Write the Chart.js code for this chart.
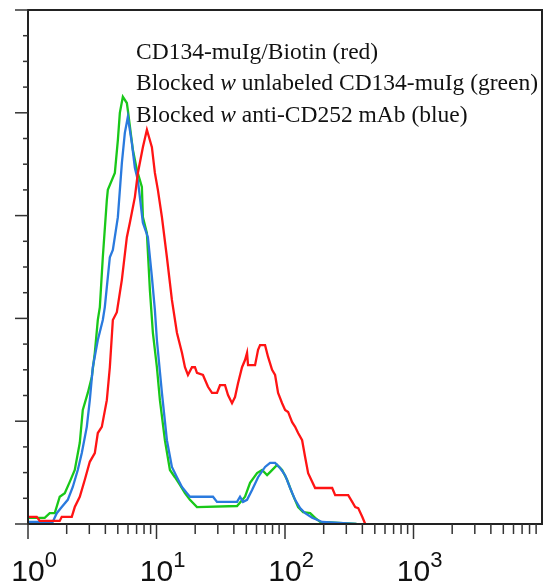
<!DOCTYPE html>
<html>
<head>
<meta charset="utf-8">
<script src="https://cdn.jsdelivr.net/npm/chart.js@4.4.0/dist/chart.umd.min.js"></script>
<style>
  html, body { margin: 0; padding: 0; background: #fff; }
</style>
</head>
<body>
<canvas id="histChart" width="550" height="584"></canvas>
<script>
// values (fluorescence on log axis, counts as % of y range)
const redFl = [1, 1.169, 1.234, 1.766, 1.831, 2.191, 2.312, 2.529, 2.767, 3.027, 3.311, 3.494, 3.753, 4.106, 4.334, 4.574, 4.914, 5.375, 5.879, 6.204, 6.787, 7.163, 7.834, 8.419, 9.207, 9.716, 10.25, 11.02, 12.05, 13.18, 14.42, 15.78, 16.65, 17.57, 18.88, 19.92, 20.65, 22.99, 25.16, 27.03, 29.57, 31.2, 34.13, 36.02, 38.7, 40.84, 43.1, 46.3, 48.87, 50.66, 51.57, 58.48, 61.72, 63.97, 69.97, 73.84, 79.34, 83.73, 88.36, 94.94, 100.2, 105.7, 113.6, 119.9, 126.5, 135.9, 143.5, 151.4, 162.7, 171.6, 232.9, 245.8, 310.3, 333.4, 351.9, 371.4, 399, 421.1];
const redCount = [1.4, 1.4, 0.6, 0.6, 1.4, 1.4, 3.3, 5.3, 8.6, 12.1, 13.8, 17.7, 18.9, 24.1, 30.5, 39.7, 41.2, 47.5, 55.8, 58.6, 63.6, 68.3, 73.3, 76.7, 73.3, 68.3, 65.0, 59.7, 51.9, 43.6, 37.2, 33.3, 30.5, 29.0, 30.5, 30.5, 29.4, 29.0, 26.7, 25.5, 25.5, 27.0, 27.0, 25.1, 23.5, 24.7, 27.4, 30.5, 31.9, 33.3, 30.9, 30.9, 33.9, 34.8, 34.8, 32.5, 30.0, 29.0, 25.5, 23.5, 22.2, 21.8, 19.8, 18.9, 17.7, 16.3, 13.0, 9.9, 8.2, 7.0, 7.0, 5.6, 5.6, 4.3, 3.3, 3.1, 1.4, 0];

const greenFl = [1, 1.349, 1.476, 1.615, 1.766, 1.932, 2.113, 2.312, 2.529, 2.669, 2.920, 3.137, 3.311, 3.494, 3.623, 3.821, 4.106, 4.181, 4.741, 5.004, 5.185, 5.472, 5.879, 5.985, 6.549, 7.036, 7.695, 7.834, 8.419, 8.884, 9.374, 10.07, 10.63, 11.63, 12.72, 13.91, 15.22, 16.65, 18.21, 20.65, 42.34, 48.87, 53.46, 60.62, 66.31, 72.53, 76.54, 86.79, 94.94, 103.8, 113.6, 126.5, 138.4, 156.9, 171.6, 187.8, 360];
const greenCount = [1.2, 1.2, 2.1, 2.1, 5.3, 6.0, 8.2, 10.5, 15.8, 22.2, 25.5, 28.6, 33.3, 39.7, 42.2, 51.9, 63.0, 65.0, 68.3, 74.7, 80.0, 83.1, 81.9, 80.5, 72.8, 68.9, 65.6, 59.7, 56.6, 45.5, 37.2, 30.5, 24.1, 16.3, 10.5, 9.1, 7.6, 6.0, 4.7, 3.3, 3.5, 5.3, 8.0, 9.9, 10.5, 9.5, 10.1, 11.5, 10.5, 8.6, 6.0, 3.3, 2.3, 2.1, 1.2, 0.4, 0];

const blueFl = [1, 1.558, 1.674, 1.831, 2.039, 2.231, 2.440, 2.622, 2.868, 3.027, 3.194, 3.494, 3.821, 3.961, 4.334, 4.574, 5.004, 5.375, 5.671, 5.985, 6.432, 6.787, 7.163, 7.834, 8.570, 9.207, 9.716, 10.07, 11.02, 12.05, 13.18, 14.42, 15.78, 17.26, 18.21, 27.52, 29.57, 42.34, 44.67, 47.13, 50.66, 55.42, 61.72, 69.97, 76.54, 83.73, 91.59, 100.2, 109.6, 119.9, 131.1, 143.5, 162.7, 194.7, 360];
const blueCount = [0.4, 0.4, 2.1, 3.3, 4.7, 7.2, 10.5, 13.8, 18.9, 24.1, 30.5, 35.8, 39.7, 42.2, 51.9, 53.3, 59.7, 70.2, 76.1, 79.2, 74.1, 69.3, 66.9, 58.6, 55.8, 48.1, 41.6, 35.8, 25.5, 16.3, 11.1, 9.1, 7.2, 6.0, 5.3, 5.3, 4.3, 4.3, 5.3, 4.3, 4.7, 6.6, 9.1, 11.1, 11.9, 11.9, 10.9, 9.5, 7.0, 4.7, 3.1, 2.1, 1.2, 0.4, 0];

const decades = [1, 10, 100, 1000];
const decadeExp = ['0', '1', '2', '3'];

// legend lines, each a list of [text, italic]
const legendLines = [
  [['CD134-muIg/Biotin (red)', false]],
  [['Blocked ', false], ['w', true], [' unlabeled CD134-muIg (green)', false]],
  [['Blocked ', false], ['w', true], [' anti-CD252 mAb (blue)', false]],
];

const toPts = (xs, ys) => xs.map((v, i) => ({ x: v, y: ys[i] }));

// frame, tick marks, 10^n labels and the legend text
const facsAxes = {
  id: 'facsAxes',
  afterDraw(chart) {
    const { ctx, chartArea: a, scales: { x, y } } = chart;
    ctx.save();
    ctx.strokeStyle = '#222';
    ctx.lineWidth = 2;
    ctx.strokeRect(a.left, a.top, a.right - a.left, a.bottom - a.top);

    ctx.lineWidth = 1.5;
    ctx.strokeStyle = '#333';
    for (let v = 0; v <= 100; v += 5) {
      const py = y.getPixelForValue(v);
      const len = v % 20 === 0 ? 13 : 5;
      ctx.beginPath(); ctx.moveTo(a.left - len, py); ctx.lineTo(a.left, py); ctx.stroke();
    }
    decades.forEach(d => {
      for (let m = 1; m <= 9; m++) {
        const px = x.getPixelForValue(d * m);
        const len = m === 1 ? 15 : 10;
        ctx.beginPath(); ctx.moveTo(px, a.bottom); ctx.lineTo(px, a.bottom + len); ctx.stroke();
      }
    });

    ctx.fillStyle = '#111';
    ctx.textBaseline = 'alphabetic';
    decades.forEach((d, i) => {
      const px = x.getPixelForValue(d);
      ctx.font = '30px "Liberation Sans"';
      ctx.textAlign = 'center';
      ctx.fillText('10', px, 581);
      const w = ctx.measureText('10').width;
      ctx.font = '22px "Liberation Sans"';
      ctx.textAlign = 'left';
      ctx.fillText(decadeExp[i], px + w / 2, 567);
    });

    const baselines = [59, 90, 122];
    legendLines.forEach((line, i) => {
      let tx = 136;
      line.forEach(([txt, it]) => {
        ctx.font = (it ? 'italic ' : '') + '23.5px "Liberation Serif"';
        ctx.fillText(txt, tx, baselines[i]);
        tx += ctx.measureText(txt).width;
      });
    });
    ctx.restore();
  }
};

new Chart(document.getElementById('histChart').getContext('2d'), {
  type: 'line',
  data: {
    datasets: [
      { label: 'red',   data: toPts(redFl, redCount),     borderColor: '#ff1414' },
      { label: 'blue',  data: toPts(blueFl, blueCount),   borderColor: '#2a7ade' },
      { label: 'green', data: toPts(greenFl, greenCount), borderColor: '#19c819' },
    ].map(ds => ({ ...ds, borderWidth: 2.3, pointRadius: 0, tension: 0, fill: false })),
  },
  options: {
    responsive: false,
    animation: false,
    devicePixelRatio: 1,
    layout: { padding: { left: 28, top: 10, right: 8, bottom: 60 } },
    scales: {
      x: { type: 'logarithmic', min: 1, max: 10000, display: false },
      y: { type: 'linear', min: 0, max: 100, display: false },
    },
    plugins: { legend: { display: false }, tooltip: { enabled: false } },
  },
  plugins: [facsAxes],
});
</script>
</body>
</html>
